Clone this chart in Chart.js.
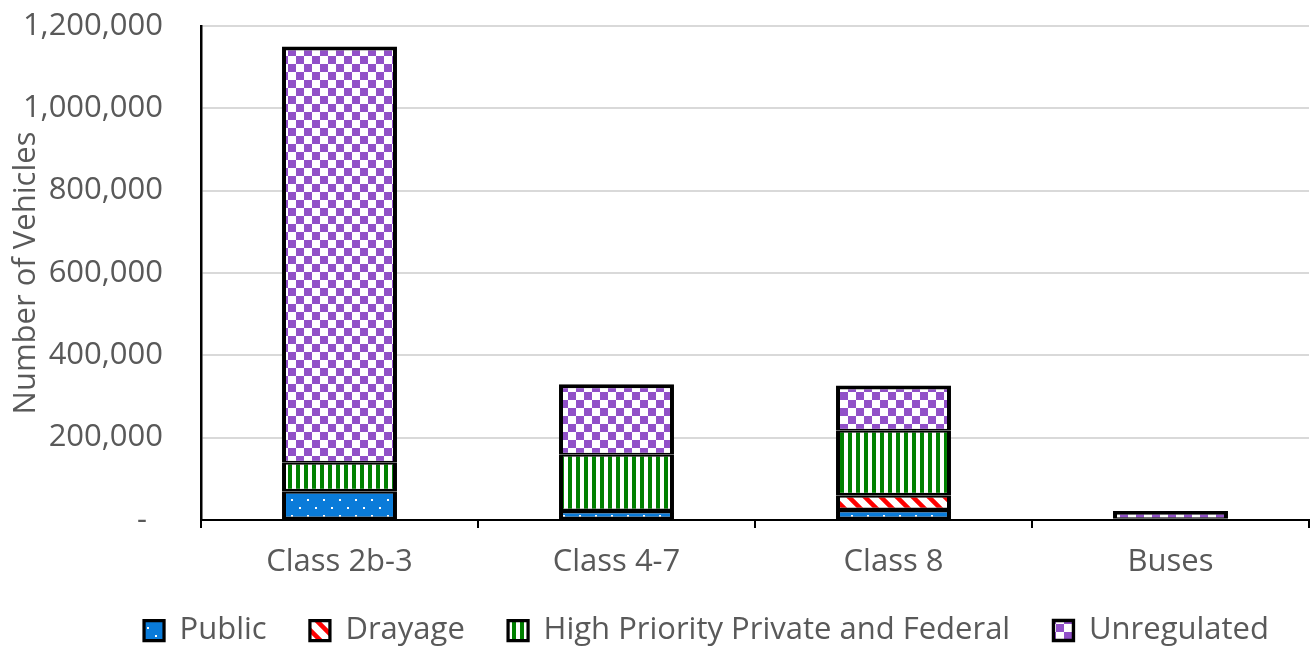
<!DOCTYPE html>
<html>
<head>
<meta charset="utf-8">
<script src="https://cdn.jsdelivr.net/npm/chart.js@4.4.1/dist/chart.umd.min.js"></script>
<style>
  html, body { margin: 0; padding: 0; background: #fff; }
  #wrap { width: 1311px; height: 648px; }
</style>
</head>
<body>
<div id="wrap"><canvas id="vehChart"></canvas></div>
<script>
// --- data ---
const categories = ['Class 2b-3', 'Class 4-7', 'Class 8', 'Buses'];
const publicVals = [70000, 22000, 24000, 2000];
const drayageVals = [0, 0, 36000, 0];
const highPriorityVals = [70000, 138000, 158000, 1000];
const unregulatedVals = [1010000, 170000, 109000, 19000];
const yTicks = [0, 200000, 400000, 600000, 800000, 1000000, 1200000];

// --- fill patterns ---
function makePattern(w, h, draw) {
    const c = document.createElement('canvas');
    c.width = w; c.height = h;
    const g = c.getContext('2d');
    draw(g, w, h);
    return document.createElement('canvas').getContext('2d').createPattern(c, 'repeat');
}
const dotBlue = makePattern(16, 16, (g) => {
    g.fillStyle = '#0A7BD9'; g.fillRect(0, 0, 16, 16);
    g.fillStyle = '#ffffff'; g.fillRect(3, 3, 2, 2); g.fillRect(11, 11, 2, 2);
});
const redDiag = makePattern(16, 16, (g) => {
    g.fillStyle = '#ffffff'; g.fillRect(0, 0, 16, 16);
    g.strokeStyle = '#FF0000'; g.lineWidth = 4.5;
    g.beginPath();
    g.moveTo(-4, -4); g.lineTo(20, 20);
    g.moveTo(-4, 12); g.lineTo(4, 20);
    g.moveTo(12, -4); g.lineTo(20, 4);
    g.stroke();
});
const greenVert = makePattern(8, 8, (g) => {
    g.fillStyle = '#ffffff'; g.fillRect(0, 0, 8, 8);
    g.fillStyle = '#008000'; g.fillRect(0, 0, 4, 8);
});
const purpleCheck = makePattern(16, 16, (g) => {
    g.fillStyle = '#ffffff'; g.fillRect(0, 0, 16, 16);
    g.fillStyle = '#9150C8'; g.fillRect(0, 0, 8, 8); g.fillRect(8, 8, 8, 8);
});

const txt = '#595959';
const fontFam = "'Open Sans', sans-serif";
const fSize = 31;
const segBorder = { top: 2.5, bottom: 2.5, left: 4, right: 4 };

function ds(label, data, fill, border) {
    return {
        label: label, data: data, backgroundColor: fill,
        borderColor: '#000000', borderWidth: border || segBorder, borderSkipped: false,
        categoryPercentage: 1.0, barPercentage: 0.415
    };
}

// move legend right and down, like the original
const legendShift = {
    id: 'legendShift',
    afterLayout(chart) {
        const l = chart.legend;
        if (l) { l.left += 52; l.right += 52; l.top += 8; l.bottom += 8; }
    }
};

const ctx = document.getElementById('vehChart').getContext('2d');
const vehChart = new Chart(ctx, {
    type: 'bar',
    data: {
        labels: categories,
        datasets: [
            ds('Public', publicVals, dotBlue),
            ds('Drayage', drayageVals, redDiag),
            ds('High Priority Private and Federal', highPriorityVals, greenVert),
            ds('Unregulated', unregulatedVals, purpleCheck, { top: 4, bottom: 1.5, left: 4, right: 4 })
        ]
    },
    options: {
        responsive: true, maintainAspectRatio: false, animation: false,
        layout: { padding: { top: 26, right: 2, left: 0, bottom: 0 } },
        scales: {
            x: {
                stacked: true,
                grid: { drawOnChartArea: false, drawTicks: true, tickLength: 8, color: '#000', lineWidth: 2 },
                border: { color: '#000', width: 2 },
                ticks: { color: txt, font: { family: fontFam, size: fSize }, padding: 16 },
                afterFit(scale) { scale.height = 84; }
            },
            y: {
                stacked: true, min: 0, max: 1200000,
                afterBuildTicks(scale) { scale.ticks = yTicks.map(v => ({ value: v })); },
                grid: { color: '#D9D9D9', lineWidth: 2, drawTicks: false },
                border: { color: '#000', width: 2.5 },
                ticks: {
                    color: txt, font: { family: fontFam, size: fSize }, padding: 38,
                    callback: (v) => v === 0 ? '-  ' : v.toLocaleString('en-US')
                },
                title: { display: true, text: 'Number of Vehicles', color: txt, font: { family: fontFam, size: fSize }, padding: { top: 8, bottom: 0 } },
                afterFit(scale) { scale.width = 201; scale.paddingTop = 0; scale.paddingBottom = 0; }
            }
        },
        plugins: {
            legend: {
                position: 'bottom',
                labels: {
                    color: txt, font: { family: fontFam, size: fSize }, boxWidth: 20, boxHeight: 20, padding: 3,
                    generateLabels(chart) {
                        const items = Chart.defaults.plugins.legend.labels.generateLabels(chart);
                        items.forEach((it, i) => { if (i < items.length - 1) it.text += '     '; });
                        return items;
                    }
                }
            },
            tooltip: { enabled: false }
        }
    },
    plugins: [legendShift]
});
</script>
</body>
</html>
